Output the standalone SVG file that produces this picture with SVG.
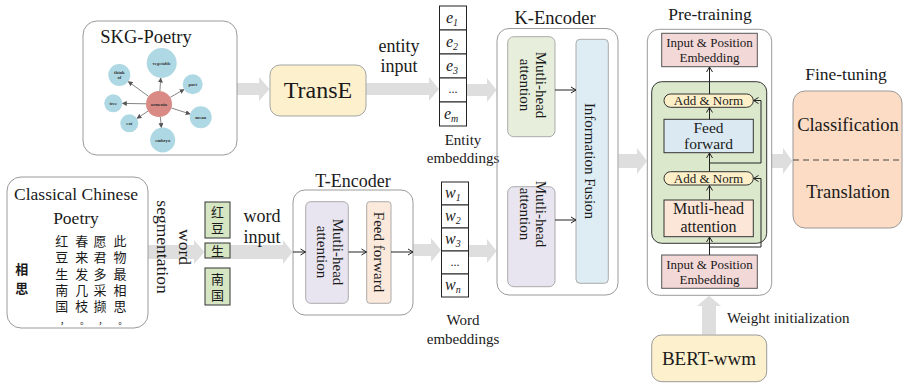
<svg xmlns="http://www.w3.org/2000/svg" width="908" height="385" viewBox="0 0 908 385">
  <style>
    .t { font-family: "Liberation Serif", "Times New Roman", serif; fill: #1a1a1a; }
    .cjk { font-family: "Noto Sans CJK SC", sans-serif; fill: #1a1a1a; }
    .band { fill: #dedede; }
    .outer { fill: none; stroke: #9a9a9a; stroke-width: 1; }
    .thin { fill: none; stroke: #222; stroke-width: 1; }
    .kg { fill: none; stroke: #666; stroke-width: 0.8; }
    .leaf { fill: #aed8e3; }
    .kl { font-family: "Liberation Serif", serif; font-weight: bold; font-size: 4.6px; fill: #333; text-anchor: middle; }
    .cell { fill: #fff; stroke: #222; stroke-width: 1; }
  </style>
  <defs>
    <marker id="chev" markerUnits="userSpaceOnUse" markerWidth="8" markerHeight="8" refX="6" refY="4" orient="auto">
      <path d="M1,1 L6,4 L1,7" fill="none" stroke="#222" stroke-width="1"/>
    </marker>
    <marker id="tri" markerUnits="userSpaceOnUse" markerWidth="5" markerHeight="5" refX="4.5" refY="2.5" orient="auto">
      <path d="M0,0 L5,2.5 L0,5 z" fill="#555"/>
    </marker>
  </defs>

  <rect width="908" height="385" fill="#fff"/>

  <!-- wide grey bands between stages (drawn first so labels sit on top) -->
  <g id="connectors">
    <polygon class="band" points="237,83 259,83 259,77 269.5,89 259,101 259,95 237,95"/>
    <polygon class="band" points="366,83 429,83 429,77 439,89 429,101 429,95 366,95"/>
    <polygon class="band" points="467,84 487,84 487,78 496.5,90 487,102 487,96 467,96"/>
    <polygon class="band" points="148,245 194,245 194,240 204.5,252 194,264 194,259 148,259"/>
    <polygon class="band" points="230,245 283,245 283,240 292.5,252 283,264 283,259 230,259"/>
    <polygon class="band" points="413.5,244 431,244 431,238 441,250 431,262 431,256 413.5,256"/>
    <polygon class="band" points="469,245 487,245 487,239 496.5,251 487,263 487,257 469,257"/>
    <polygon class="band" points="618.5,154 637,154 637,148 647,161 637,174 637,168 618.5,168"/>
    <polygon class="band" points="772,154 783,154 783,148 792.5,161 783,174 783,168 772,168"/>
    <polygon class="band" points="702,334.5 702,306 697,306 709,295.8 721,306 716,306 716,334.5"/>
  </g>

  <!-- knowledge graph -->
  <g id="skg-poetry">
    <rect class="outer" x="83" y="21" width="154" height="134" rx="14"/>
    <text class="t" x="146" y="43" font-size="18.5" text-anchor="middle">SKG-Poetry</text>
    <g>
      <line class="kg" x1="159.9" y1="91" x2="160.7" y2="78" marker-end="url(#tri)"/>
      <line class="kg" x1="148.5" y1="96.3" x2="128.2" y2="81.5" marker-end="url(#tri)"/>
      <line class="kg" x1="170.2" y1="97.4" x2="184.1" y2="89.4" marker-end="url(#tri)"/>
      <line class="kg" x1="146" y1="103.8" x2="122.3" y2="103.4" marker-end="url(#tri)"/>
      <line class="kg" x1="171.4" y1="108" x2="190.2" y2="114" marker-end="url(#tri)"/>
      <line class="kg" x1="148.1" y1="111.1" x2="136.9" y2="118.4" marker-end="url(#tri)"/>
      <line class="kg" x1="160.3" y1="116.9" x2="161.4" y2="127.6" marker-end="url(#tri)"/>
    </g>
    <circle cx="159" cy="104" r="13" fill="#d98a84"/>
    <circle class="leaf" cx="161.7" cy="63" r="15"/>
    <circle class="leaf" cx="119.3" cy="75" r="11"/>
    <circle class="leaf" cx="192.7" cy="84.3" r="10"/>
    <circle class="leaf" cx="113.3" cy="103.3" r="9"/>
    <circle class="leaf" cx="200.7" cy="117.3" r="11"/>
    <circle class="leaf" cx="129.3" cy="123.3" r="9"/>
    <circle class="leaf" cx="162.7" cy="140" r="12.5"/>
    <text class="kl" x="159" y="105.5">armenia</text>
    <text class="kl" x="161.7" y="64.5">vegetable</text>
    <text class="kl" x="119.3" y="73.5">think</text>
    <text class="kl" x="119.3" y="79">of</text>
    <text class="kl" x="192.7" y="85.8">part</text>
    <text class="kl" x="113.3" y="104.8">tree</text>
    <text class="kl" x="200.7" y="118.8">mean</text>
    <text class="kl" x="129.3" y="124.8">eat</text>
    <text class="kl" x="162.7" y="141.5">embryo</text>
  </g>

  <g id="transe">
    <rect x="270" y="65" width="96" height="51" rx="10" fill="#fdf0cd" stroke="#a5a5a5"/>
    <text class="t" x="318" y="98" font-size="24" text-anchor="middle">TransE</text>
  </g>

  <g id="entity-input-label">
    <text class="t" x="399" y="52" font-size="18" text-anchor="middle">entity</text>
    <text class="t" x="399" y="72" font-size="18" text-anchor="middle">input</text>
  </g>

  <g id="entity-embeddings">
    <rect class="cell" x="439.5" y="6" width="27" height="24"/>
    <rect class="cell" x="439.5" y="30" width="27" height="24"/>
    <rect class="cell" x="439.5" y="54" width="27" height="24"/>
    <rect class="cell" x="439.5" y="78" width="27" height="24"/>
    <rect class="cell" x="439.5" y="102" width="27" height="24"/>
    <g class="t" font-size="16" font-style="italic">
      <text x="446" y="23">e<tspan font-size="10" dy="3">1</tspan></text>
      <text x="446" y="47">e<tspan font-size="10" dy="3">2</tspan></text>
      <text x="446" y="71">e<tspan font-size="10" dy="3">3</tspan></text>
      <text x="444" y="119">e<tspan font-size="10" dy="3">m</tspan></text>
    </g>
    <text class="t" x="453" y="93" font-size="12" text-anchor="middle">...</text>
    <text class="t" x="463" y="145" font-size="15" text-anchor="middle">Entity</text>
    <text class="t" x="463" y="163" font-size="15" text-anchor="middle">embeddings</text>
  </g>

  <g id="classical-poetry">
    <rect class="outer" x="7" y="177" width="141" height="151" rx="14"/>
    <text class="t" x="76" y="200" font-size="17.5" text-anchor="middle">Classical Chinese</text>
    <text class="t" x="76" y="224" font-size="17.5" text-anchor="middle">Poetry</text>
    <text class="cjk" font-size="13" font-weight="bold" text-anchor="middle" x="21.7 21.7" y="274 293">相思</text>
    <g class="cjk" font-size="13" text-anchor="middle">
      <text x="61.7 61.7 61.7 61.7 61.7" y="246 262.3 278.6 294.9 311.2">红豆生南国</text>
      <text x="81.7 81.7 81.7 81.7 81.7" y="246 262.3 278.6 294.9 311.2">春来发几枝</text>
      <text x="100 100 100 100 100" y="246 262.3 278.6 294.9 311.2">愿君多采撷</text>
      <text x="120 120 120 120 120" y="246 262.3 278.6 294.9 311.2">此物最相思</text>
    </g>
    <g class="cjk" font-size="9" text-anchor="middle">
      <text x="64.5" y="324">，</text>
      <text x="84.5" y="324">。</text>
      <text x="102.8" y="324">，</text>
      <text x="122.8" y="324">。</text>
    </g>
  </g>

  <g id="word-segmentation-label">
    <g transform="translate(172,247) rotate(90)">
      <text class="t" x="0" y="-7" font-size="17.5" text-anchor="middle">word</text>
      <text class="t" x="0" y="15" font-size="17.5" text-anchor="middle">segmentation</text>
    </g>
  </g>

  <g id="segmented-words">
    <rect x="205" y="202" width="25" height="36" fill="#d6e6c3" stroke="#333"/>
    <rect x="205" y="243" width="25" height="15" fill="#d6e6c3" stroke="#333"/>
    <rect x="205" y="268" width="25" height="37" fill="#d6e6c3" stroke="#333"/>
    <g class="cjk" font-size="13" text-anchor="middle">
      <text x="217.5 217.5" y="216.5 233">红豆</text>
      <text x="217.5" y="255.5">生</text>
      <text x="217.5 217.5" y="284 300">南国</text>
    </g>
  </g>

  <g id="word-input-label">
    <text class="t" x="262" y="222" font-size="18" text-anchor="middle">word</text>
    <text class="t" x="262" y="243" font-size="18" text-anchor="middle">input</text>
  </g>

  <g id="t-encoder">
    <rect class="outer" x="293" y="190" width="120" height="125" rx="12"/>
    <text class="t" x="353" y="187" font-size="18" text-anchor="middle">T-Encoder</text>
    <rect x="305.7" y="201.7" width="42.6" height="101.6" rx="5" fill="#e9e5f0" stroke="#aaa"/>
    <rect x="366.7" y="201.7" width="24.3" height="101.6" rx="3" fill="#fbe9dc" stroke="#aaa"/>
    <g transform="translate(330,252) rotate(90)">
      <text class="t" x="0" y="-3" font-size="15" text-anchor="middle">Mutli-head</text>
      <text class="t" x="0" y="13" font-size="15" text-anchor="middle">attention</text>
    </g>
    <g transform="translate(379,252) rotate(90)">
      <text class="t" x="0" y="5" font-size="15" text-anchor="middle">Feed forward</text>
    </g>
  </g>

  <g id="word-embeddings">
    <rect class="cell" x="441.5" y="182" width="27" height="23"/>
    <rect class="cell" x="441.5" y="205" width="27" height="23"/>
    <rect class="cell" x="441.5" y="228" width="27" height="23"/>
    <rect class="cell" x="441.5" y="251" width="27" height="23"/>
    <rect class="cell" x="441.5" y="274" width="27" height="23"/>
    <g class="t" font-size="16" font-style="italic">
      <text x="445" y="198">w<tspan font-size="10" dy="3">1</tspan></text>
      <text x="445" y="221">w<tspan font-size="10" dy="3">2</tspan></text>
      <text x="445" y="244">w<tspan font-size="10" dy="3">3</tspan></text>
      <text x="445" y="290">w<tspan font-size="10" dy="3">n</tspan></text>
    </g>
    <text class="t" x="455" y="266" font-size="12" text-anchor="middle">...</text>
    <text class="t" x="463" y="325" font-size="15" text-anchor="middle">Word</text>
    <text class="t" x="463" y="344" font-size="15" text-anchor="middle">embeddings</text>
  </g>

  <g id="k-encoder">
    <rect class="outer" x="497" y="28.5" width="121" height="266.5" rx="12"/>
    <text class="t" x="555" y="24" font-size="18.5" text-anchor="middle">K-Encoder</text>
    <rect x="507.7" y="36.7" width="47.3" height="100" rx="6" fill="#e7efdc" stroke="#aaa"/>
    <rect x="507.7" y="186.7" width="47.3" height="100" rx="6" fill="#e9e5f0" stroke="#aaa"/>
    <rect x="576" y="39.3" width="32.3" height="244" rx="4" fill="#deedf4" stroke="#aaa"/>
    <g transform="translate(533,85) rotate(90)">
      <text class="t" x="0" y="-3" font-size="15" text-anchor="middle">Mutli-head</text>
      <text class="t" x="0" y="13" font-size="15" text-anchor="middle">attention</text>
    </g>
    <g transform="translate(533,214) rotate(90)">
      <text class="t" x="0" y="-3" font-size="15" text-anchor="middle">Mutli-head</text>
      <text class="t" x="0" y="13" font-size="15" text-anchor="middle">attention</text>
    </g>
    <g transform="translate(590,161) rotate(90)">
      <text class="t" x="0" y="5" font-size="15" text-anchor="middle">Information Fusion</text>
    </g>
  </g>

  <g id="pre-training">
    <rect class="outer" x="647.3" y="29.3" width="124.4" height="266" rx="12"/>
    <text class="t" x="710" y="20" font-size="17.5" text-anchor="middle">Pre-training</text>
    <rect x="661.7" y="33.3" width="95.6" height="33.4" fill="#f3d8d8" stroke="#555"/>
    <text class="t" x="709.5" y="47" font-size="13" text-anchor="middle">Input &amp; Position</text>
    <text class="t" x="709.5" y="62" font-size="13" text-anchor="middle">Embedding</text>
    <rect x="651.7" y="81.7" width="115" height="161.6" rx="10" fill="#dbe8cc" stroke="#333"/>
    <rect x="664" y="94" width="89.3" height="13.3" rx="6.6" fill="#fdf0c8" stroke="#333"/>
    <text class="t" x="708.5" y="105" font-size="13" text-anchor="middle">Add &amp; Norm</text>
    <rect x="664" y="119.3" width="89.3" height="33.4" fill="#dbeaf2" stroke="#333"/>
    <text class="t" x="708.5" y="133" font-size="15.5" text-anchor="middle">Feed</text>
    <text class="t" x="708.5" y="149" font-size="15.5" text-anchor="middle">forward</text>
    <rect x="664" y="171.7" width="89.3" height="13.3" rx="6.6" fill="#fdf0c8" stroke="#333"/>
    <text class="t" x="708.5" y="182.7" font-size="13" text-anchor="middle">Add &amp; Norm</text>
    <rect x="664" y="200" width="89.3" height="36.7" fill="#fce6d8" stroke="#333"/>
    <text class="t" x="708.5" y="214" font-size="16" text-anchor="middle">Mutli-head</text>
    <text class="t" x="708.5" y="232" font-size="16" text-anchor="middle">attention</text>
    <rect x="661.7" y="255" width="95.6" height="33.3" fill="#f3d8d8" stroke="#555"/>
    <text class="t" x="709.5" y="268.5" font-size="13" text-anchor="middle">Input &amp; Position</text>
    <text class="t" x="709.5" y="283.5" font-size="13" text-anchor="middle">Embedding</text>
  </g>

  <g id="fine-tuning">
    <rect x="793" y="91" width="109" height="137" rx="12" fill="#fcdcc4" stroke="#9a9a9a"/>
    <text class="t" x="846" y="80" font-size="17.5" text-anchor="middle">Fine-tuning</text>
    <text class="t" x="848" y="131" font-size="18.5" text-anchor="middle">Classification</text>
    <line x1="793" y1="160" x2="902" y2="160" stroke="#444" stroke-dasharray="6,4"/>
    <text class="t" x="848" y="198" font-size="18.5" text-anchor="middle">Translation</text>
  </g>

  <g id="bert-wwm">
    <rect x="651.7" y="335" width="115" height="46.7" rx="10" fill="#fdf0cd" stroke="#9a9a9a"/>
    <text class="t" x="709" y="365" font-size="19" text-anchor="middle">BERT-wwm</text>
  </g>

  <g id="weight-init-label">
    <text class="t" x="727" y="323" font-size="15">Weight initialization</text>
  </g>

  <!-- thin arrows inside the encoders and the transformer block -->
  <g id="inner-connectors">
    <line class="thin" x1="293" y1="252" x2="305.5" y2="252" marker-end="url(#chev)"/>
    <line class="thin" x1="348.5" y1="252" x2="366.5" y2="252" marker-end="url(#chev)"/>
    <line class="thin" x1="391" y1="252" x2="413" y2="252" marker-end="url(#chev)"/>
    <line class="thin" x1="555" y1="90" x2="576" y2="90" marker-end="url(#chev)"/>
    <line class="thin" x1="555" y1="220" x2="576" y2="220" marker-end="url(#chev)"/>
    <line class="thin" x1="709.5" y1="255" x2="709.5" y2="237" marker-end="url(#chev)"/>
    <line class="thin" x1="709.5" y1="200" x2="709.5" y2="185.5" marker-end="url(#chev)"/>
    <line class="thin" x1="709.5" y1="171.5" x2="709.5" y2="153" marker-end="url(#chev)"/>
    <line class="thin" x1="709.5" y1="119.5" x2="709.5" y2="107.5" marker-end="url(#chev)"/>
    <line class="thin" x1="709.5" y1="94" x2="709.5" y2="67" marker-end="url(#chev)"/>
    <path class="thin" d="M709.5,247 H761 V178.5 H753.5" marker-end="url(#chev)"/>
    <path class="thin" d="M709.5,163 H761 V100.5 H753.5" marker-end="url(#chev)"/>
  </g>
</svg>
